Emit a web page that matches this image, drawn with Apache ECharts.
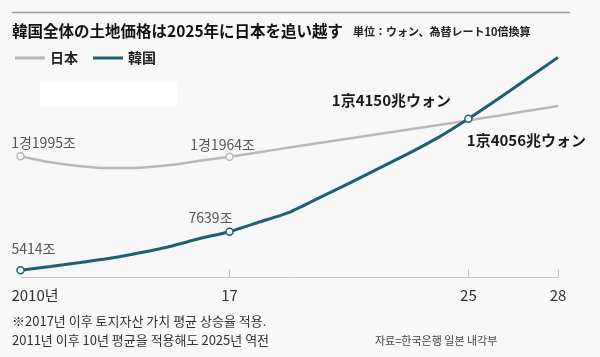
<!DOCTYPE html>
<html>
<head>
<meta charset="utf-8">
<script src="https://cdn.jsdelivr.net/npm/echarts@6/dist/echarts.min.js"></script>
<style>
html,body{margin:0;padding:0;background:#f8f8f8;}
#c{width:600px;height:357px;}
</style>
</head>
<body>
<div id="c"></div>
<script>
// ---- data ----
const years = ['2010','2011','2012','2013','2014','2015','2016','2017','2018','2019','2020','2021','2022','2023','2024','2025','2026','2027','2028'];
const japan = [11995, 11640, 11420, 11310, 11330, 11480, 11730, 11964, 12225, 12490, 12750, 13010, 13275, 13535, 13795, 14056, 14330, 14610, 14890];
const korea = [5414, 5633, 5864, 6106, 6423, 6786, 7247, 7639, 8198, 8757, 9590, 10428, 11293, 12157, 13080, 14150, 15304, 16500, 17690];
const tickLabels = ['2010년', '17', '25', '28'];
const tickYears = ['2010', '2017', '2025', '2028'];
const japanLabels = {'2010': '1경1995조', '2017': '1경1964조', '2025': '1京4056兆ウォン'};
const koreaLabels = {'2010': '5414조', '2017': '7639조', '2025': '1京4150兆ウォン'};
const seriesNames = ['日本', '韓国'];
const titleText = '韓国全体の土地価格は2025年に日本を追い越す';
const unitText = '単位：ウォン、為替レート10倍換算';
const note1 = '※2017년 이후 토지자산 가치 평균 상승율 적용.';
const note2 = '2011년 이후 10년 평균을 적용해도 2025년 역전';
const sourceText = '자료=한국은행 일본 내각부';

// ---- styles ----
const KR = '"Noto Sans CJK KR", "Noto Sans CJK JP", sans-serif';
const JP = '"Noto Sans CJK JP", "Noto Sans CJK KR", sans-serif';
const cJapan = '#b9b9b9';
const cKorea = '#1f6070';
const markerYears = {japan: ['2010','2017'], korea: ['2010','2017','2025']};
const labelOffsets = {
  japan: {'2010': [23, -13], '2017': [-7, -12], '2025': [58, 20]},
  korea: {'2010': [13, -22], '2017': [-19, -14], '2025': [-77, -18]}
};

function buildData(vals, labels, key) {
  return vals.map((v, i) => {
    const y = years[i];
    const item = {value: v};
    if (labels[y]) {
      const big = y === '2025';
      item.label = {
        show: true,
        position: 'inside',
        offset: labelOffsets[key][y],
        formatter: labels[y],
        align: 'center',
        verticalAlign: 'middle',
        fontFamily: big ? JP : KR,
        fontSize: big ? 15 : 14,
        fontWeight: big ? 'bold' : 'normal',
        color: big ? '#1a1a1a' : '#555'
      };
    }
    return item;
  });
}

function symbolFor(key, labels) {
  return (v, p) => {
    const y = years[p.dataIndex];
    if (markerYears[key].indexOf(y) >= 0) return 'circle';
    return labels[y] ? 'circle' : 'none';
  };
}
function sizeFor(key) {
  return (v, p) => markerYears[key].indexOf(years[p.dataIndex]) >= 0 ? 7 : 0.5;
}

const chart = echarts.init(document.getElementById('c'), null, {renderer: 'canvas'});
const tickIdx = tickYears.map(y => years.indexOf(y));

chart.setOption({
  backgroundColor: '#f8f8f8',
  animation: false,
  title: {
    left: 7, top: 17,
    text: '{a|' + titleText + '}  {b|' + unitText + '}',
    textStyle: {
      rich: {
        a: {fontFamily: JP, fontSize: 15.5, fontWeight: 'bold', color: '#111'},
        b: {fontFamily: JP, fontSize: 11, fontWeight: 'bold', color: '#222', padding: [2, 0, 0, 0]}
      }
    }
  },
  legend: {
    left: 10, top: 46,
    icon: 'rect',
    itemWidth: 30, itemHeight: 3,
    itemGap: 15,
    textStyle: {fontFamily: JP, fontSize: 14, fontWeight: 'bold', color: '#222'},
    data: [
      {name: seriesNames[0], itemStyle: {color: cJapan, borderWidth: 0}},
      {name: seriesNames[1], itemStyle: {color: cKorea, borderWidth: 0}}
    ]
  },
  grid: {left: 20.5, right: 42, top: 52, bottom: 79.5, containLabel: false},
  xAxis: {
    type: 'category',
    data: years,
    boundaryGap: false,
    axisLine: {lineStyle: {color: '#c4c4c4', width: 1}},
    axisTick: {
      inside: true, length: 8,
      lineStyle: {color: '#c4c4c4'},
      interval: (i) => tickIdx.indexOf(i) > 0
    },
    axisLabel: {
      interval: (i) => tickIdx.indexOf(i) >= 0,
      margin: 10,
      fontFamily: KR, fontSize: 15, color: '#333',
      formatter: (v, i) => {
        const k = tickIdx.indexOf(i);
        if (k === 0) return '{f|' + tickLabels[0] + '}';
        return k >= 0 ? tickLabels[k] : '';
      },
      rich: {f: {fontFamily: KR, fontSize: 15, color: '#333', padding: [0, 0, 0, 29]}}
    },
    splitLine: {show: false}
  },
  yAxis: {
    type: 'value', min: 5000, max: 18000, show: false, splitLine: {show: false}
  },
  graphic: [
    {type: 'line', shape: {x1: 12, y1: 12.5, x2: 570, y2: 12.5}, style: {stroke: '#9a9a9a', lineWidth: 1.5}},
    {type: 'rect', shape: {x: 40, y: 82, width: 137, height: 24}, style: {fill: '#ffffff'}, z: -1},
    {type: 'text', left: 12, top: 315, style: {text: note1, fontFamily: KR, fontSize: 13, fill: '#333'}},
    {type: 'text', left: 12, top: 334, style: {text: note2, fontFamily: KR, fontSize: 13, fill: '#333'}},
    {type: 'text', left: 375, top: 335, style: {text: sourceText, fontFamily: KR, fontSize: 11, fill: '#444'}}
  ],
  series: [
    {
      name: seriesNames[0], type: 'line',
      data: buildData(japan, japanLabels, 'japan'),
      smooth: 0.3,
      color: cJapan,
      lineStyle: {color: cJapan, width: 2.5},
      symbol: symbolFor('japan', japanLabels),
      symbolSize: sizeFor('japan'),
      showAllSymbol: true,
      itemStyle: {color: '#fff', borderColor: cJapan, borderWidth: 1.5},
      z: 2
    },
    {
      name: seriesNames[1], type: 'line',
      data: buildData(korea, koreaLabels, 'korea'),
      smooth: 0.2,
      color: cKorea,
      lineStyle: {color: cKorea, width: 3},
      symbol: symbolFor('korea', koreaLabels),
      symbolSize: sizeFor('korea'),
      showAllSymbol: true,
      itemStyle: {color: '#fff', borderColor: cKorea, borderWidth: 1.5},
      z: 3
    }
  ]
});
</script>
</body>
</html>
